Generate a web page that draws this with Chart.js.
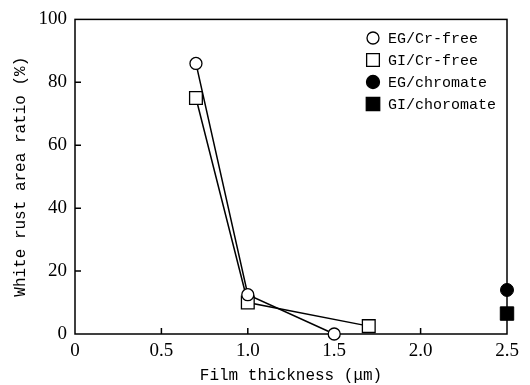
<!DOCTYPE html>
<html><head><meta charset="utf-8">
<script src="https://cdn.jsdelivr.net/npm/chart.js@4.4.1/dist/chart.umd.min.js"></script>
<style>html,body{margin:0;padding:0;background:#fff}</style>
</head><body>
<canvas id="c" width="530" height="385"></canvas>
<script>
const egCrFreeX = [0.7, 1.0, 1.5];
const egCrFreeY = [86, 12.5, 0];
const giCrFreeX = [0.7, 1.0, 1.7];
const giCrFreeY = [75, 10, 2.5];
const egChromateX = [2.5];
const egChromateY = [14];
const giChromateX = [2.5];
const giChromateY = [6.5];
const xTickValues = [0, 0.5, 1.0, 1.5, 2.0, 2.5];
const xTickLabels = ['0', '0.5', '1.0', '1.5', '2.0', '2.5'];
const yTickValues = [0, 20, 40, 60, 80, 100];
const seriesNames = ['EG/Cr-free', 'GI/Cr-free', 'EG/chromate', 'GI/choromate'];

const toPts = (xs, ys) => xs.map((x, i) => ({x: x, y: ys[i]}));
const TICK_FONT = {family: 'Liberation Serif', size: 19};
const TEXT_FONT = '15px "Liberation Mono"';

const frameTicks = {
  id: 'frameTicks',
  beforeDatasetsDraw(chart) {
    const {ctx, chartArea: a, scales} = chart;
    ctx.save();
    ctx.strokeStyle = '#000';
    ctx.lineWidth = 1.5;
    ctx.strokeRect(a.left, a.top, a.right - a.left, a.bottom - a.top);
    ctx.beginPath();
    xTickValues.slice(1, -1).forEach(v => {
      const px = scales.x.getPixelForValue(v);
      ctx.moveTo(px, a.bottom); ctx.lineTo(px, a.bottom - 6);
    });
    yTickValues.slice(1, -1).forEach(v => {
      const py = scales.y.getPixelForValue(v);
      ctx.moveTo(a.left, py); ctx.lineTo(a.left + 6, py);
    });
    ctx.stroke();
    ctx.restore();
  }
};

const legendPlugin = {
  id: 'customLegend',
  afterDraw(chart) {
    const {ctx} = chart;
    ctx.save();
    ctx.font = TEXT_FONT;
    ctx.textBaseline = 'middle';
    ctx.fillStyle = '#000';
    const x0 = 373, y0 = 38, dy = 22;
    chart.data.datasets.forEach((ds, i) => {
      const y = y0 + i * dy;
      ctx.save();
      ctx.fillStyle = ds.pointBackgroundColor;
      ctx.strokeStyle = '#000';
      ctx.lineWidth = 1.3;
      Chart.helpers.drawPoint(ctx, {pointStyle: ds.pointStyle, radius: ds.legendRadius, rotation: 0, borderWidth: 1.3}, x0, y);
      ctx.restore();
      ctx.fillText(seriesNames[i], x0 + 15, y + 1);
    });
    ctx.restore();
  }
};

new Chart(document.getElementById('c'), {
  type: 'scatter',
  data: {
    datasets: [
      {label: seriesNames[0], data: toPts(egCrFreeX, egCrFreeY), showLine: true, borderColor: '#000', borderWidth: 1.5,
       pointStyle: 'circle', pointRadius: 6, pointBackgroundColor: '#fff', pointBorderColor: '#000', pointBorderWidth: 1.3, clip: false, legendRadius: 6},
      {label: seriesNames[1], data: toPts(giCrFreeX, giCrFreeY), showLine: true, borderColor: '#000', borderWidth: 1.5,
       pointStyle: 'rect', pointRadius: 9, pointBackgroundColor: '#fff', pointBorderColor: '#000', pointBorderWidth: 1.3, clip: false, legendRadius: 9},
      {label: seriesNames[2], data: toPts(egChromateX, egChromateY), showLine: false,
       pointStyle: 'circle', pointRadius: 6.5, pointBackgroundColor: '#000', pointBorderColor: '#000', pointBorderWidth: 1, clip: false, legendRadius: 6.5},
      {label: seriesNames[3], data: toPts(giChromateX, giChromateY), showLine: false,
       pointStyle: 'rect', pointRadius: 9.5, pointBackgroundColor: '#000', pointBorderColor: '#000', pointBorderWidth: 1, clip: false, legendRadius: 9.5}
    ]
  },
  options: {
    responsive: false,
    animation: false,
    layout: {padding: {top: 16, right: 23, left: 0, bottom: 0}},
    plugins: {legend: {display: false}, tooltip: {enabled: false}},
    scales: {
      x: {
        type: 'linear', min: 0, max: 2.5,
        afterBuildTicks: s => { s.ticks = xTickValues.map(v => ({value: v})); },
        afterFit: s => { s.height = 51; },
        grid: {display: false, drawTicks: false},
        border: {display: false},
        ticks: {font: TICK_FONT, color: '#000', padding: 6,
                callback: (v) => xTickLabels[xTickValues.indexOf(v)]},
        title: {display: true, text: 'Film thickness (μm)', color: '#000', font: {family: 'Liberation Mono', size: 16}, padding: {top: 0, bottom: 0}}
      },
      y: {
        type: 'linear', min: 0, max: 100,
        afterBuildTicks: s => { s.ticks = yTickValues.map(v => ({value: v})); },
        afterFit: s => { s.width = 75; },
        grid: {display: false, drawTicks: false},
        border: {display: false},
        ticks: {font: TICK_FONT, color: '#000', padding: 8},
        title: {display: true, text: 'White rust area ratio (%)', color: '#000', font: {family: 'Liberation Mono', size: 16}, padding: {top: 11, bottom: 0}}
      }
    }
  },
  plugins: [frameTicks, legendPlugin]
});
</script>
</body></html>
